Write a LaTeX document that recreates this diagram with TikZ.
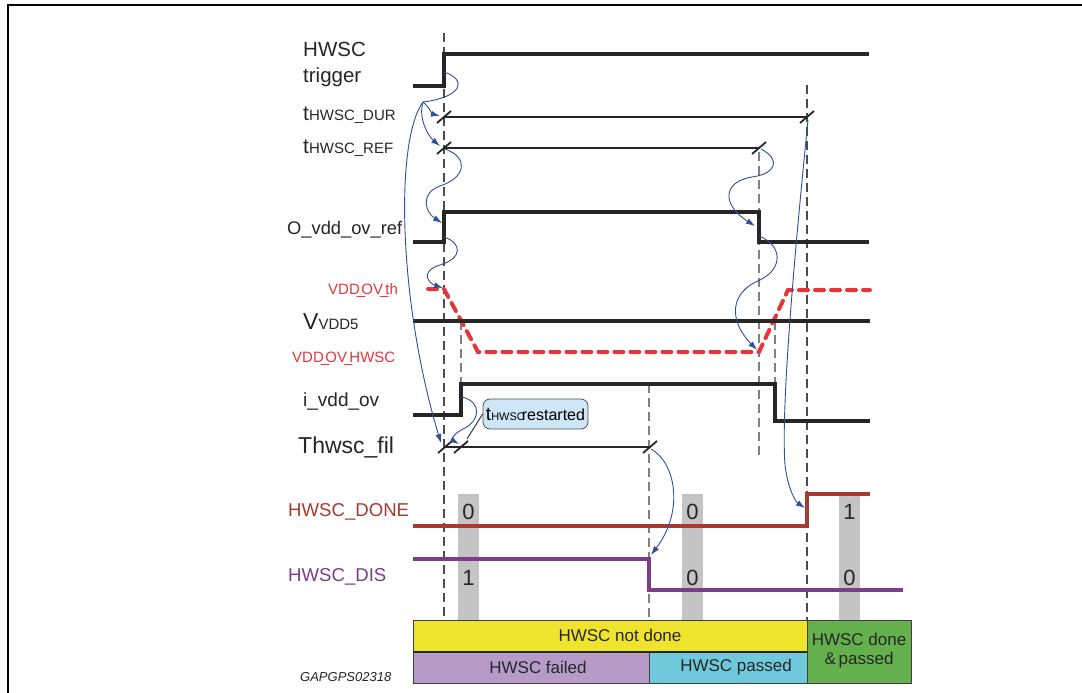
\documentclass[tikz,border=0pt]{standalone}
\usepackage{fontspec}
\setmainfont{Liberation Sans}
\usetikzlibrary{arrows.meta}
\definecolor{sigc}{HTML}{262626}
\definecolor{redc}{HTML}{E6363B}
\definecolor{donec}{HTML}{A63A2E}
\definecolor{disc}{HTML}{7D3C8A}
\definecolor{bluec}{HTML}{2E4E9E}
\definecolor{barc}{HTML}{C4C4C4}
\definecolor{yelc}{HTML}{EFE42C}
\definecolor{purc}{HTML}{B69BC9}
\definecolor{cyac}{HTML}{6FC9DB}
\definecolor{grec}{HTML}{63B04D}
\definecolor{boxc}{HTML}{CFE6F7}
\newcommand\fs[1]{\fontsize{#1}{#1}\selectfont}
\newcommand\mytsub[1]{{\fs{21}t}{\fs{15}#1}}
\begin{document}
\begin{tikzpicture}[x=1pt,y=-1pt,
  sig/.style={line width=3.2pt, draw=sigc, line join=miter},
  tline/.style={line width=1.8pt, draw=sigc},
  tmark/.style={line width=1.8pt, draw=sigc},
  vdash/.style={line width=1.1pt, draw=#1, dash pattern=on 9pt off 5pt},
  vdash/.default={black!70},
  reddash/.style={line width=4pt, draw=redc, dash pattern=on 9pt off 7pt, line cap=round},
  bline/.style={draw=bluec, line width=0.9pt},
  flow/.style={bline, -{Latex[length=9pt,width=6pt]}},
  lbl/.style={anchor=base west, inner sep=0pt, text=sigc},
  digit/.style={anchor=base, inner sep=0pt, text=sigc, font=\fs{22}},
  boxtxt/.style={anchor=center, inner sep=0pt, text=sigc, font=\fs{17}, align=center},
]
\useasboundingbox (0,0) rectangle (1082,693);
\fill[white] (0,0) rectangle (1082,693);
% frame
\draw[line width=2.5pt] (8,693) -- (8,5) -- (1082,5);

% gray bars
\fill[barc] (458,494) rectangle (479,620);
\fill[barc] (682,494) rectangle (703,620);
\fill[barc] (839,494) rectangle (860,620);

% vertical dashed guides
\draw[vdash] (444,33) -- (444,620);
\draw[vdash=black!50] (461,321) -- (461,384);
\draw[vdash=black!50] (649,384) -- (649,620);
\draw[vdash=black!50] (759,152) -- (759,456);
\draw[vdash=black!50] (775,321) -- (775,384);
\draw[vdash] (807,85) -- (807,620);

% labels
\node[lbl, font=\fs{20.5}] (lTrig) at (303,57) {HWSC};
\node[lbl, font=\fs{20.5}] (lTrig2) at (303,82) {trigger};
\node[lbl] (lDur) at (303,121) {\mytsub{HWSC\_DUR}};
\node[lbl] (lRef) at (303,153) {\mytsub{HWSC\_REF}};
\node[lbl, font=\fs{18.3}] (lOvr) at (287,234) {O\_vdd\_ov\_ref};
\node[lbl, text=redc, font=\fs{15}] (lTh) at (328,294) {VDD\kern-.2em\_\kern-.25em OV\kern-.2em\_\kern-.2em th};
\node[lbl] (lV) at (303,329) {{\fs{23}V}{\fs{15}VDD5}};
\node[lbl, text=redc, font=\fs{15}] (lHw) at (292,362) {VDD\kern-.2em\_\kern-.25em OV\kern-.2em\_\kern-.2em HWSC};
\node[lbl, font=\fs{19}] (lIv) at (303,406) {i\_vdd\_ov};
\node[lbl, font=\fs{23}] (lFil) at (298,453) {Thwsc\_fil};
\node[lbl, text=donec, font=\fs{18.6}] (lDone) at (288,516) {HWSC\_DONE};
\node[lbl, text=disc, font=\fs{18.6}] (lDis) at (288,581) {HWSC\_DIS};
\node[lbl, font=\itshape\fs{13}] (lCode) at (300,681) {GAPGPS02318};

% signals
\draw[sig] (413,86) -- (444,86) -- (444,54) -- (869,54);
\draw[tline] (444,117) -- (807,117);
\draw[tline] (444,148) -- (759,148);
\draw[sig] (413,242) -- (444,242) -- (444,212) -- (759,212) -- (759,242) -- (869,242);
\draw[reddash] (428,289) -- (444,289) -- (478,352) -- (759,352) -- (788,290) -- (870,290);
\draw[sig] (413,321) -- (870,321);
\draw[sig] (413,415) -- (461,415) -- (461,384) -- (775,384) -- (775,421) -- (870,421);
\draw[tline] (445,447) -- (650,447);
\draw[sig, draw=donec] (413,526) -- (807,526) -- (807,494) -- (870,494);
\draw[sig, draw=disc] (413,559) -- (649,559) -- (649,590) -- (903,590);

% tick marks
\foreach \px/\py in {444/117, 807/117, 444/148, 759/148, 445/447, 461/447, 650/447}
  \draw[tmark] (\px-7,\py+6) -- (\px+7,\py-6);

% digits
\node[digit] (d1) at (468.5,519) {0};
\node[digit] (d2) at (468.5,585) {1};
\node[digit] (d3) at (692.5,519) {0};
\node[digit] (d4) at (692.5,585) {0};
\node[digit] (d5) at (849.5,519) {1};
\node[digit] (d6) at (849.5,585) {0};

% bottom state boxes
\path[fill=yelc] (413,620) rectangle (807,652);
\path[fill=purc] (413,652) rectangle (649,683);
\path[fill=cyac] (649,652) rectangle (807,683);
\path[fill=grec] (807,620) rectangle (911,683);
\draw[draw=black!75, line width=0.8pt] (413,620) rectangle (911,683);
\draw[draw=black!75, line width=0.8pt] (649,652) -- (649,683);
\draw[draw=black!75, line width=0.8pt] (807,620) -- (807,683);
\draw[draw=black!85, line width=2pt] (413,652) -- (807,652);
\node[boxtxt] (bNot) at (620,635) {HWSC not done};
\node[boxtxt] (bFail) at (538,667) {HWSC failed};
\node[boxtxt] (bPass) at (736,667) {HWSC passed};
\node[boxtxt] (bDone) at (859,651) {HWSC done\\[2pt]\&\,passed};

% restarted callout
\node[draw=sigc!80, line width=0.8pt, fill=boxc, rounded corners=7pt, minimum width=105pt, minimum height=30pt, inner sep=2pt, anchor=center] (rbox) at (535.5,414)
  {{\fs{19}t}{\fs{11}HWSC}\kern-3pt{\fs{16}restarted}};
\coordinate (filBtop) at (467,439);
\draw[sigc, line width=0.9pt] (rbox.west) -- (filBtop);

% arrow coordinates
\coordinate (trigR) at (444,72);
\coordinate (P) at (423,102);
\coordinate (durSa) at (440,116);
\coordinate (refSa) at (440,146);
\coordinate (filAa) at (441,443);
\coordinate (refS) at (445,149);
\coordinate (ovRa) at (442,223);
\coordinate (ovR2) at (444,237);
\coordinate (redSa) at (443,288);
\coordinate (refE) at (761,149);
\coordinate (ovFa) at (755,226);
\coordinate (ovF2) at (759,236);
\coordinate (redLa) at (757,350);
\coordinate (durE) at (808,120);
\coordinate (doneRa) at (805,508);
\coordinate (ivR) at (462,397);
\coordinate (filBa) at (459,444);
\coordinate (filC) at (651,449);
\coordinate (disFa) at (651,555);

% blue causal arrows
\draw[bline] (trigR) .. controls (468,80) and (462,97) .. (P);
\draw[flow] (P) .. controls (430,108) and (432,114) .. (durSa);
\draw[flow] (P) .. controls (418,118) and (428,136) .. (refSa);
\draw[flow] (P) .. controls (395,140) and (398,300) .. (filAa);
\draw[flow] (refS) .. controls (470,158) and (465,178) .. (440,186) .. controls (420,193) and (425,212) .. (ovRa);
\draw[flow] (ovR2) .. controls (462,243) and (463,258) .. (440,265) .. controls (420,271) and (428,283) .. (redSa);
\draw[flow] (refE) .. controls (782,160) and (775,174) .. (752,177) .. controls (722,182) and (722,205) .. (ovFa);
\draw[flow] (ovF2) .. controls (782,245) and (784,268) .. (760,280) .. controls (730,292) and (728,320) .. (redLa);
\draw[flow] (durE) .. controls (800,200) and (780,400) .. (785,465) .. controls (788,490) and (796,502) .. (doneRa);
\draw[flow] (ivR) .. controls (482,402) and (480,420) .. (465,428) .. controls (452,434) and (452,440) .. (filBa);
\draw[flow] (filC) .. controls (675,462) and (685,510) .. (disFa);
\end{tikzpicture}
\end{document}
